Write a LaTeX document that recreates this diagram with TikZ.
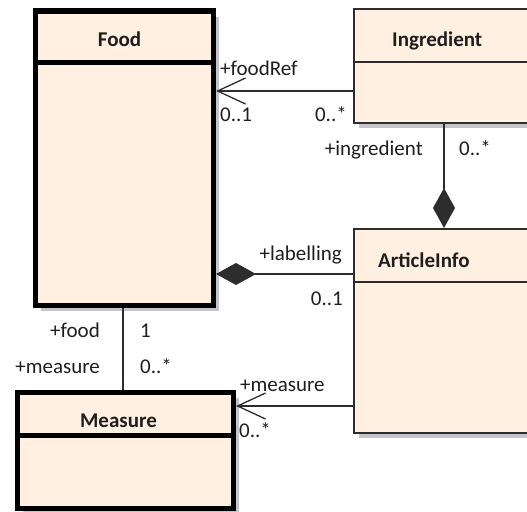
\documentclass[tikz,border=0pt]{standalone}
\usepackage{fontspec}
\setmainfont{Carlito}
\usetikzlibrary{arrows.meta,shadows}

\definecolor{classfill}{RGB}{255,240,225}
\definecolor{shadowgray}{RGB}{196,196,204}
\definecolor{boxline}{RGB}{45,45,45}
\definecolor{labeltext}{RGB}{30,30,30}

\tikzset{
  heavyclass/.style={draw=black, line width=5.5pt, fill=classfill,
    drop shadow={shadow xshift=6pt, shadow yshift=-6pt, fill=shadowgray, opacity=1}},
  lightclass/.style={draw=boxline, line width=1.6pt, fill=classfill,
    drop shadow={shadow xshift=5pt, shadow yshift=-5pt, fill=shadowgray, opacity=1}},
  classname/.style={font=\fontsize{21pt}{25pt}\selectfont\bfseries, text=labeltext, inner sep=0pt},
  rolelabel/.style={font=\fontsize{21pt}{25pt}\selectfont, text=labeltext, inner sep=0pt},
  assoc/.style={draw=boxline, line width=1.3pt},
  openend/.style={-{Straight Barb[length=28pt, width=26pt]}},
  partof/.style={{Diamond[length=40pt, width=22pt]}-},
  partofend/.style={-{Diamond[length=40pt, width=22pt]}}
}

\begin{document}
\begin{tikzpicture}[x=1pt, y=-1pt]
  \clip (0,0) rectangle (527,511);
  \fill[white] (0,0) rectangle (527,511);

  % class boxes
  \node[heavyclass, anchor=north west, minimum width=178pt, minimum height=294pt] (food) at (32.5,8.5) {};
  \node[heavyclass, anchor=north west, minimum width=216pt, minimum height=116pt] (measure) at (14.5,389.5) {};
  \node[lightclass, anchor=north west, minimum width=247pt, minimum height=114pt] (ingredient) at (353,8) {};
  \node[lightclass, anchor=north west, minimum width=247pt, minimum height=204pt] (articleinfo) at (353,228) {};

  % compartment dividers
  \coordinate (fooddiv) at (0,62.5);
  \coordinate (measurediv) at (0,435.5);
  \coordinate (ingdiv) at (0,62);
  \coordinate (artdiv) at (0,282);
  \draw[line width=5.5pt] (food.west |- fooddiv) -- (food.east |- fooddiv);
  \draw[line width=5.5pt] (measure.west |- measurediv) -- (measure.east |- measurediv);
  \draw[draw=boxline, line width=1.6pt] (ingredient.west |- ingdiv) -- (ingredient.east |- ingdiv);
  \draw[draw=boxline, line width=1.6pt] (articleinfo.west |- artdiv) -- (articleinfo.east |- artdiv);

  % class names
  \node[classname, anchor=base] (food-name) at (119.5,47) {Food};
  \node[classname, anchor=base west] (ingredient-name) at (392,47) {Ingredient};
  \node[classname, anchor=base west] (articleinfo-name) at (378,267) {ArticleInfo};
  \node[classname, anchor=base] (measure-name) at (118.5,427) {Measure};

  % associations
  \coordinate (refy) at (0,91);
  \coordinate (laby) at (0,274);
  \coordinate (msy) at (0,406);
  \coordinate (ingx) at (444,0);
  \coordinate (fmx) at (123,0);
  \draw[assoc, openend] (ingredient.west |- refy) -- (food.east |- refy);
  \draw[assoc, partof] (food.east |- laby) -- (articleinfo.west |- laby);
  \draw[assoc, partofend] (ingredient.south -| ingx) -- (articleinfo.north -| ingx);
  \draw[assoc, openend] (articleinfo.west |- msy) -- (measure.east |- msy);
  \draw[assoc] (food.south -| fmx) -- (measure.north -| fmx);

  % role names and multiplicities
  \node[rolelabel, anchor=base west] (foodref-role) at (220,75) {+foodRef};
  \node[rolelabel, anchor=base west] (foodref-mult) at (220,121) {0..1};
  \node[rolelabel, anchor=base east] (ingref-mult) at (347,121) {0..*};
  \node[rolelabel, anchor=base east] (ingredient-role) at (423,155) {+ingredient};
  \node[rolelabel, anchor=base west] (ingredient-mult) at (459,155) {0..*};
  \node[rolelabel, anchor=base east] (labelling-role) at (342,260) {+labelling};
  \node[rolelabel, anchor=base east] (labelling-mult) at (343,305) {0..1};
  \node[rolelabel, anchor=base east] (food-role) at (100,337) {+food};
  \node[rolelabel, anchor=base west] (food-mult) at (140,337) {1};
  \node[rolelabel, anchor=base east] (measure-role) at (100,373) {+measure};
  \node[rolelabel, anchor=base west] (measure-mult) at (140,373) {0..*};
  \node[rolelabel, anchor=base west] (artmeasure-role) at (240,391) {+measure};
  \node[rolelabel, anchor=base west] (artmeasure-mult) at (239,437) {0..*};
\end{tikzpicture}
\end{document}
